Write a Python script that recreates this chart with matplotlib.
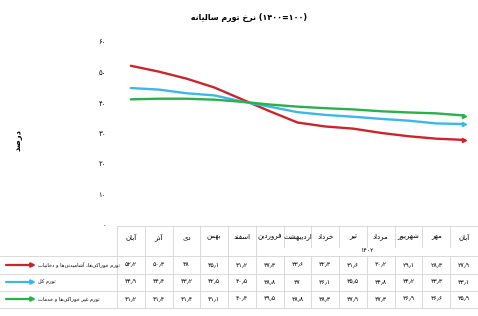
import re

import matplotlib
matplotlib.use("Agg")
import matplotlib.pyplot as plt
from matplotlib.transforms import blended_transform_factory

plt.rcParams.update({
    "font.family": ["DejaVu Sans"],
    "font.size": 6,
})

RED, BLUE, GREEN = "#c8262c", "#3fb6e8", "#2bb04c"

months = ["آبان", "آذر", "دی", "بهمن", "اسفند", "فروردین", "اردیبهشت",
          "خرداد", "تیر", "مرداد", "شهریور", "مهر", "آبان"]
year_label = "۱۴۰۲"
year_start = 5  # first column of 1402

food = [52.2, 50.3, 48.0, 45.1, 41.2, 37.3, 33.6, 32.3, 31.6, 30.2, 29.1, 28.3, 27.9]
total = [44.9, 44.4, 43.2, 42.5, 40.5, 38.8, 37.0, 36.1, 35.5, 34.8, 34.2, 33.3, 33.1]
nonfood = [41.2, 41.4, 41.4, 41.1, 40.4, 39.5, 38.8, 38.3, 37.9, 37.3, 36.9, 36.6, 35.9]

series = [
    ("تورم خوراکی‌ها، آشامیدنی‌ها و دخانیات", food, RED),
    ("تورم کل", total, BLUE),
    ("تورم غیر خوراکی‌ها و خدمات", nonfood, GREEN),
]
title = "نرخ تورم سالیانه"
title_num = "(۱۴۰۰=۱۰۰)"
ylabel = "درصد"
yticks = [0, 10, 20, 30, 40, 50, 60]

# --- minimal persian shaping (matplotlib has no bidi / joining) ---
DUAL = {
    "ب": "\uFE8F\uFE90\uFE91\uFE92", "ت": "\uFE95\uFE96\uFE97\uFE98",
    "خ": "\uFEA5\uFEA6\uFEA7\uFEA8", "س": "\uFEB1\uFEB2\uFEB3\uFEB4",
    "ش": "\uFEB5\uFEB6\uFEB7\uFEB8", "ص": "\uFEB9\uFEBA\uFEBB\uFEBC",
    "غ": "\uFECD\uFECE\uFECF\uFED0", "ف": "\uFED1\uFED2\uFED3\uFED4",
    "ل": "\uFEDD\uFEDE\uFEDF\uFEE0", "م": "\uFEE1\uFEE2\uFEE3\uFEE4",
    "ن": "\uFEE5\uFEE6\uFEE7\uFEE8", "ه": "\uFEE9\uFEEA\uFEEB\uFEEC",
    "ی": "\uFBFC\uFBFD\uFBFE\uFBFF", "ک": "\uFB8E\uFB8F\uFB90\uFB91",
}
RIGHT = {
    "ا": "\uFE8D\uFE8E", "آ": "\uFE81\uFE82", "د": "\uFEA9\uFEAA",
    "ذ": "\uFEAB\uFEAC", "ر": "\uFEAD\uFEAE", "ز": "\uFEAF\uFEB0",
    "و": "\uFEED\uFEEE",
}
FA_DIGITS = str.maketrans("0123456789.", "۰۱۲۳۴۵۶۷۸۹٫")


def fa(v):
    return f"{v:g}".translate(FA_DIGITS)


def shape(text):
    out = []
    for i, c in enumerate(text):
        if c not in DUAL and c not in RIGHT:
            if c != "\u200c":
                out.append(c)
            continue
        prev = text[i - 1] if i > 0 else ""
        nxt = text[i + 1] if i + 1 < len(text) else ""
        jp = prev in DUAL
        jn = c in DUAL and (nxt in DUAL or nxt in RIGHT)
        forms = DUAL.get(c) or RIGHT[c]
        if jp and jn:
            out.append(forms[3])
        elif jp:
            out.append(forms[1])
        elif jn:
            out.append(forms[2])
        else:
            out.append(forms[0])
    s = "".join(out)
    parts = re.split(r"([0-9۰-۹٫.=]+)", s)
    mirror = {"(": ")", ")": "("}
    vis = []
    for p in reversed(parts):
        if re.fullmatch(r"[0-9۰-۹٫.=]+", p or "x"):
            vis.append(p)
        else:
            vis.append("".join(mirror.get(ch, ch) for ch in reversed(p)))
    return "".join(vis)


W, H = 478, 316
fig = plt.figure(figsize=(W / 100, H / 100), dpi=100)
ax = fig.add_axes([117 / W, (H - 225) / H, 361 / W, 183 / H])
x = list(range(len(months)))
for _, vals, col in series:
    ax.plot(x, vals, color=col, lw=1.7, solid_capstyle="round")
    ax.plot(x[-1:], vals[-1:], ">", color=col, ms=3)
ax.set_xlim(-0.5, len(months) - 0.5)
ax.set_ylim(0, 60)
ax.set_xticks([])
ax.set_yticks(yticks)
ax.set_yticklabels([fa(v) for v in yticks], fontsize=5)
ax.tick_params(axis="y", length=0, pad=8)
for s in ax.spines.values():
    s.set_visible(False)

fig.text(248 / W, 1 - 17 / H, shape(title + " ") + " " + title_num, ha="center",
         va="center", fontsize=5.8, fontweight="bold")
fig.text(18 / W, 1 - 140 / H, shape(ylabel), rotation=90, ha="center",
         va="center", fontsize=6, fontweight="bold")

# --- data table under the chart ---
tax = fig.add_axes([0, 0, 1, (H - 225) / H])
tax.set_xlim(0, W)
tax.set_ylim(H, 225)
tax.axis("off")
tr = blended_transform_factory(ax.transData, tax.transData)
grid = dict(color="#d4d4d4", lw=0.6)

tax.plot([117, W], [226, 226], **grid)
for y in (256, 274, 291, 308):
    tax.plot([0, W], [y, y], **grid)
for i in range(len(months) + 1):
    xe = i - 0.5
    inner = year_start < i < len(months)
    tax.plot([xe, xe], [226, 247 if inner else 308], transform=tr, **grid)
    if inner:
        tax.plot([xe, xe], [256, 308], transform=tr, **grid)
for i, m in enumerate(months):
    tax.text(i, 237, shape(m), transform=tr, ha="center", va="center", fontsize=5)
tax.text((year_start + len(months) - 1) / 2, 251, year_label, transform=tr,
         ha="center", va="center", fontsize=4.5)

for r, (name, vals, col) in enumerate(series):
    yc = 265 + r * 17
    tax.annotate("", xy=(36, yc), xytext=(6, yc),
                 arrowprops=dict(arrowstyle="-|>", color=col, lw=1.6,
                                 mutation_scale=6, shrinkA=0, shrinkB=0))
    tax.text(38, yc, shape(name), ha="left", va="center", fontsize=3.7)
    for i, v in enumerate(vals):
        tax.text(i, yc, fa(v), transform=tr, ha="center", va="center", fontsize=4.5)

fig.savefig("out.png", dpi=100)
